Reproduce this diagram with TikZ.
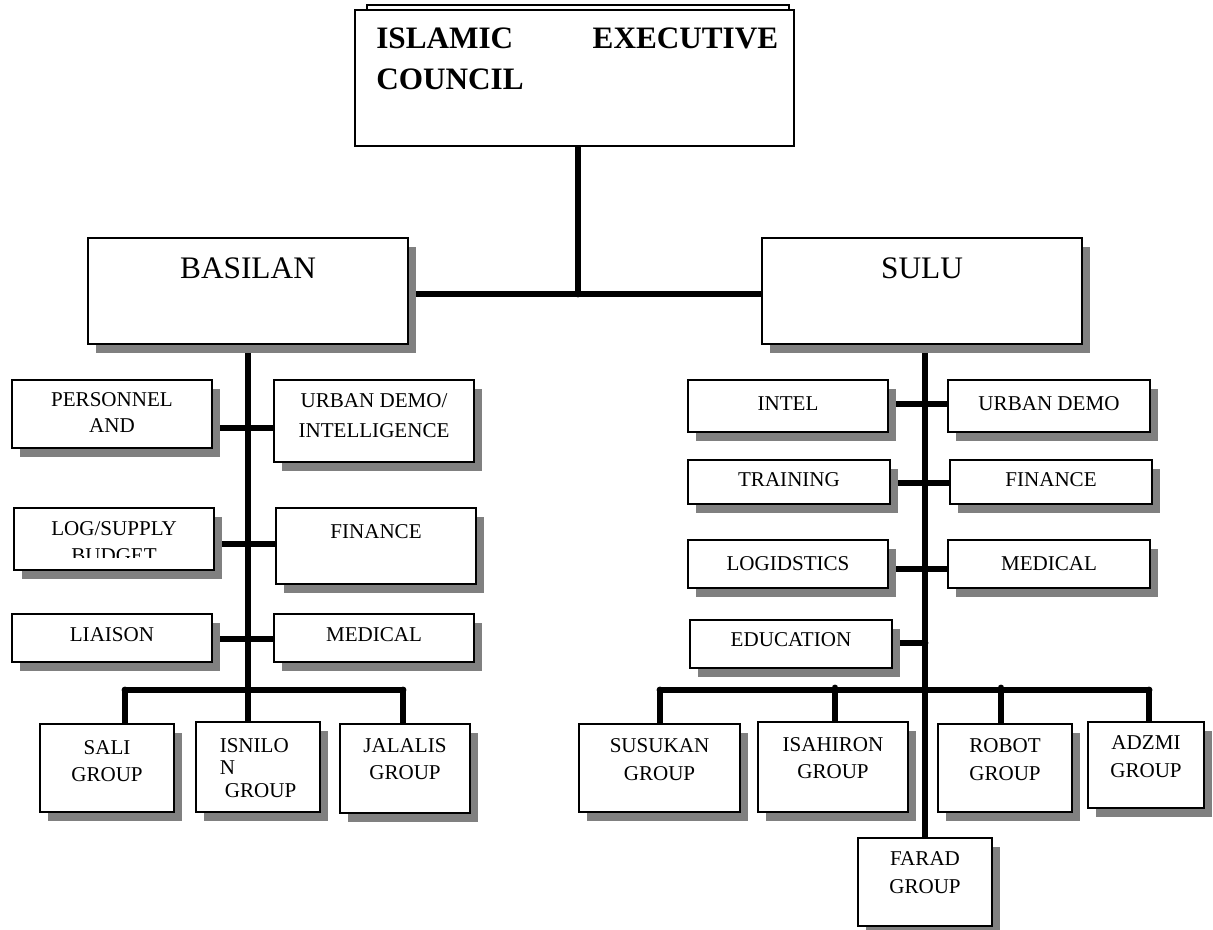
\documentclass[tikz,border=0pt]{standalone}
\usepackage{fontspec}
\setmainfont{Liberation Serif}
\usetikzlibrary{shadows,backgrounds}

\tikzset{
	titlebox/.style={draw, line width=1.5pt, fill=white, anchor=north west, inner sep=0pt},
	box/.style={titlebox, drop shadow={shadow xshift=6pt, shadow yshift=-6.6pt, fill=gray, opacity=1}},
	boxsize/.style 2 args={minimum width=#1*0.75pt, minimum height=#2*0.75pt},
	boxtext/.style={anchor=north, align=center, inner sep=0pt, font=\fontsize{15.8}{20.5}\selectfont},
	txt/.style={boxtext, yshift=-#1*0.75pt},
	bigtext/.style={txt=#1, font=\fontsize{23.5}{28}\selectfont},
	titletext/.style={anchor=north west, inner sep=0pt, text width=301.5pt, align=left,
		xshift=16.5pt, yshift=-14.2pt, font=\bfseries\fontsize{23.4}{30.8}\selectfont},
	link/.style={line width=5.2pt, line cap=round},
}

\begin{document}
\begin{tikzpicture}[x=0.75pt, y=-0.75pt]
	\useasboundingbox (0,0) rectangle (1213,930);

	% back frame of the council
	\draw[line width=1.1pt] (367,5) rectangle (789,20);

	% council
	\node[titlebox, boxsize={439}{136}, label={[titletext]north west:{ISLAMIC\hfill EXECUTIVE\\COUNCIL}}] (council) at (354,9) {};

	% provinces
	\node[box, boxsize={320}{106}, label={[bigtext=20]north:BASILAN}] (basilan) at (87,237) {};
	\node[box, boxsize={320}{106}, label={[bigtext=20]north:SULU}] (sulu) at (761,237) {};

	% basilan staff
	\node[box, boxsize={200}{68}, label={[txt=13, font=\fontsize{15.8}{19.5}\selectfont]north:{PERSONNEL\\AND}}] (personnel) at (11,379) {};
	\node[box, boxsize={200}{82}, label={[txt=14, font=\fontsize{15.8}{22.5}\selectfont]north:{URBAN DEMO/\\INTELLIGENCE}}] (urbanb) at (273,379) {};
	\node[box, boxsize={200}{62}] (logsup) at (13,507) {};
	\begin{scope}
		\clip (logsup.north west) rectangle (213,557);
		\node[txt=14] (logtext) at (logsup.north) {LOG/SUPPLY\\BUDGET};
	\end{scope}
	\node[box, boxsize={200}{76}, label={[txt=17]north:FINANCE}] (financeb) at (275,507) {};
	\node[box, boxsize={200}{48}, label={[txt=14]north:LIAISON}] (liaison) at (11,613) {};
	\node[box, boxsize={200}{48}, label={[txt=14]north:MEDICAL}] (medicalb) at (273,613) {};

	% basilan groups
	\node[box, boxsize={134}{88}, label={[txt=17]north:{SALI\\GROUP}}] (sali) at (39,723) {};
	\node[box, boxsize={124}{90}, label={[txt=17, align=left, font=\fontsize{15.8}{17}\selectfont]north:{ISNILO\\N\\\hspace*{3.8pt}GROUP}}] (isnilon) at (195,721) {};
	\node[box, boxsize={130}{89}, label={[txt=15]north:{JALALIS\\GROUP}}] (jalalis) at (339,723) {};

	% sulu staff
	\node[box, boxsize={200}{52}, label={[txt=17]north:INTEL}] (intel) at (687,379) {};
	\node[box, boxsize={202}{52}, label={[txt=17]north:URBAN DEMO}] (urbans) at (947,379) {};
	\node[box, boxsize={202}{44}, label={[txt=13]north:TRAINING}] (training) at (687,459) {};
	\node[box, boxsize={202}{44}, label={[txt=13]north:FINANCE}] (finances) at (949,459) {};
	\node[box, boxsize={200}{48}, label={[txt=17]north:LOGIDSTICS}] (logistics) at (687,539) {};
	\node[box, boxsize={202}{48}, label={[txt=17]north:MEDICAL}] (medicals) at (947,539) {};
	\node[box, boxsize={202}{48}, label={[txt=13]north:EDUCATION}] (education) at (689,619) {};

	% sulu groups
	\node[box, boxsize={161}{88}, label={[txt=15, font=\fontsize{15.8}{21.5}\selectfont]north:{SUSUKAN\\GROUP}}] (susukan) at (578,723) {};
	\node[box, boxsize={150}{90}, label={[txt=16]north:{ISAHIRON\\GROUP}}] (isahiron) at (757,721) {};
	\node[box, boxsize={134}{88}, label={[txt=15, font=\fontsize{15.8}{21.5}\selectfont]north:{ROBOT\\GROUP}}] (robot) at (937,723) {};
	\node[box, boxsize={116}{86}, label={[txt=14, font=\fontsize{15.8}{21}\selectfont]north:{ADZMI\\GROUP}}] (adzmi) at (1087,721) {};
	\node[box, boxsize={134}{88}, label={[txt=14, font=\fontsize{15.8}{21}\selectfont]north:{FARAD\\GROUP}}] (farad) at (857,837) {};

	\begin{pgfonlayer}{background}
		% council to provinces
		\coordinate (top) at (578,294);
		\draw[link] (top |- council.south) -- (top);
		\draw[link] (basilan.east |- top) -- (sulu.west |- top);

		% basilan spine
		\coordinate (bspine) at (248,690);
		\draw[link] (bspine |- basilan.south) -- (bspine |- isnilon.north);
		\coordinate (b1) at (248,428);
		\coordinate (b2) at (248,544);
		\coordinate (b3) at (248,639);
		\draw[link] (b1 -| personnel.east) -- (b1 -| urbanb.west);
		\draw[link] (b2 -| logsup.east) -- (b2 -| financeb.west);
		\draw[link] (b3 -| liaison.east) -- (b3 -| medicalb.west);

		% basilan group bar
		\coordinate (bl) at (125,690);
		\coordinate (br) at (403,690);
		\draw[link] (bl) -- (br);
		\draw[link] (bl) -- (bl |- sali.north);
		\draw[link] (br) -- (br |- jalalis.north);

		% sulu spine
		\coordinate (sspine) at (925,690);
		\draw[link] (sspine |- sulu.south) -- (sspine |- farad.north);
		\coordinate (s1) at (925,404);
		\coordinate (s2) at (925,483);
		\coordinate (s3) at (925,569);
		\coordinate (s4) at (925,643);
		\draw[link] (s1 -| intel.east) -- (s1 -| urbans.west);
		\draw[link] (s2 -| training.east) -- (s2 -| finances.west);
		\draw[link] (s3 -| logistics.east) -- (s3 -| medicals.west);
		\draw[link] (s4 -| education.east) -- (s4);

		% sulu group bar
		\coordinate (sl) at (660,690);
		\coordinate (sr) at (1149,690);
		\draw[link] (sl) -- (sr);
		\coordinate (s5) at (835,688);
		\coordinate (s6) at (1001,688);
		\draw[link] (sl) -- (sl |- susukan.north);
		\draw[link] (s5) -- (s5 |- isahiron.north);
		\draw[link] (s6) -- (s6 |- robot.north);
		\draw[link] (sr) -- (sr |- adzmi.north);
	\end{pgfonlayer}
\end{tikzpicture}
\end{document}
